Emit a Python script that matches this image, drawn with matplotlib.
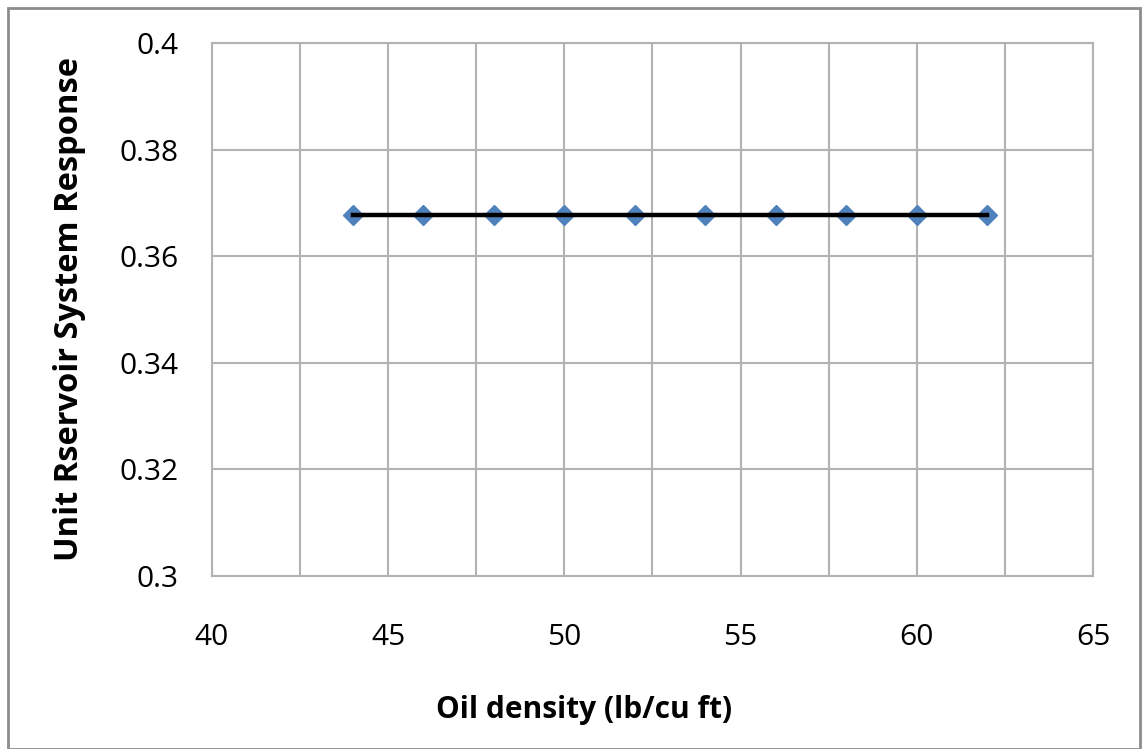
import matplotlib.pyplot as plt
from matplotlib.patches import Rectangle
import numpy as np

oil_density = [44, 46, 48, 50, 52, 54, 56, 58, 60, 62]
response = [0.3678, 0.3678, 0.3678, 0.3678, 0.3678, 0.3678, 0.3678, 0.3678, 0.3678, 0.3678]
x_ticks = [40, 45, 50, 55, 60, 65]
y_ticks = [0.3, 0.32, 0.34, 0.36, 0.38, 0.4]
y_tick_labels = ['0.3', '0.32', '0.34', '0.36', '0.38', '0.4']


def main():
    plt.rcParams['font.family'] = ['Open Sans', 'DejaVu Sans']
    fig = plt.figure(figsize=(11.44, 7.49), dpi=100)
    ax = fig.add_axes([0.1853, 0.231, 0.7701, 0.7116])

    # vertical grid every 2.5, labels every 5
    ax.set_xticks(np.arange(40, 65.1, 2.5), minor=True)
    ax.set_xticks(x_ticks)
    ax.set_yticks(y_ticks)
    ax.set_yticklabels(y_tick_labels)
    ax.set_xlim(40, 65)
    ax.set_ylim(0.3, 0.4)
    ax.grid(True, which='both', color='#b3b3b3', linewidth=1.5)
    ax.set_axisbelow(True)
    ax.tick_params(which='both', length=0)
    ax.tick_params(axis='x', pad=34, labelsize=21.5)
    ax.tick_params(axis='y', pad=24, labelsize=21.5)
    for s in ax.spines.values():
        s.set_color('#b3b3b3')
        s.set_linewidth(1.5)

    ax.plot(oil_density, response, color='black', linewidth=3.2, zorder=3)
    ax.plot(oil_density, response, linestyle='none', marker='D', markersize=10,
            color='#4f81bd', zorder=2, clip_on=False)

    ax.set_xlabel('Oil density (lb/cu ft)', fontsize=21.5, fontweight='bold')
    ax.set_ylabel('Unit Rservoir System Response', fontsize=23.5, fontweight='bold')
    ax.xaxis.set_label_coords(0.422, -0.223)
    ax.yaxis.set_label_coords(-0.143, 0.5)

    fig.patches.append(Rectangle((8 / 1144, 0), 1132 / 1144, 741 / 749, transform=fig.transFigure,
                                 fill=False, edgecolor='#8c8c8c', linewidth=2))

    fig.savefig('out.png', dpi=100)


if __name__ == "__main__":
    main()
